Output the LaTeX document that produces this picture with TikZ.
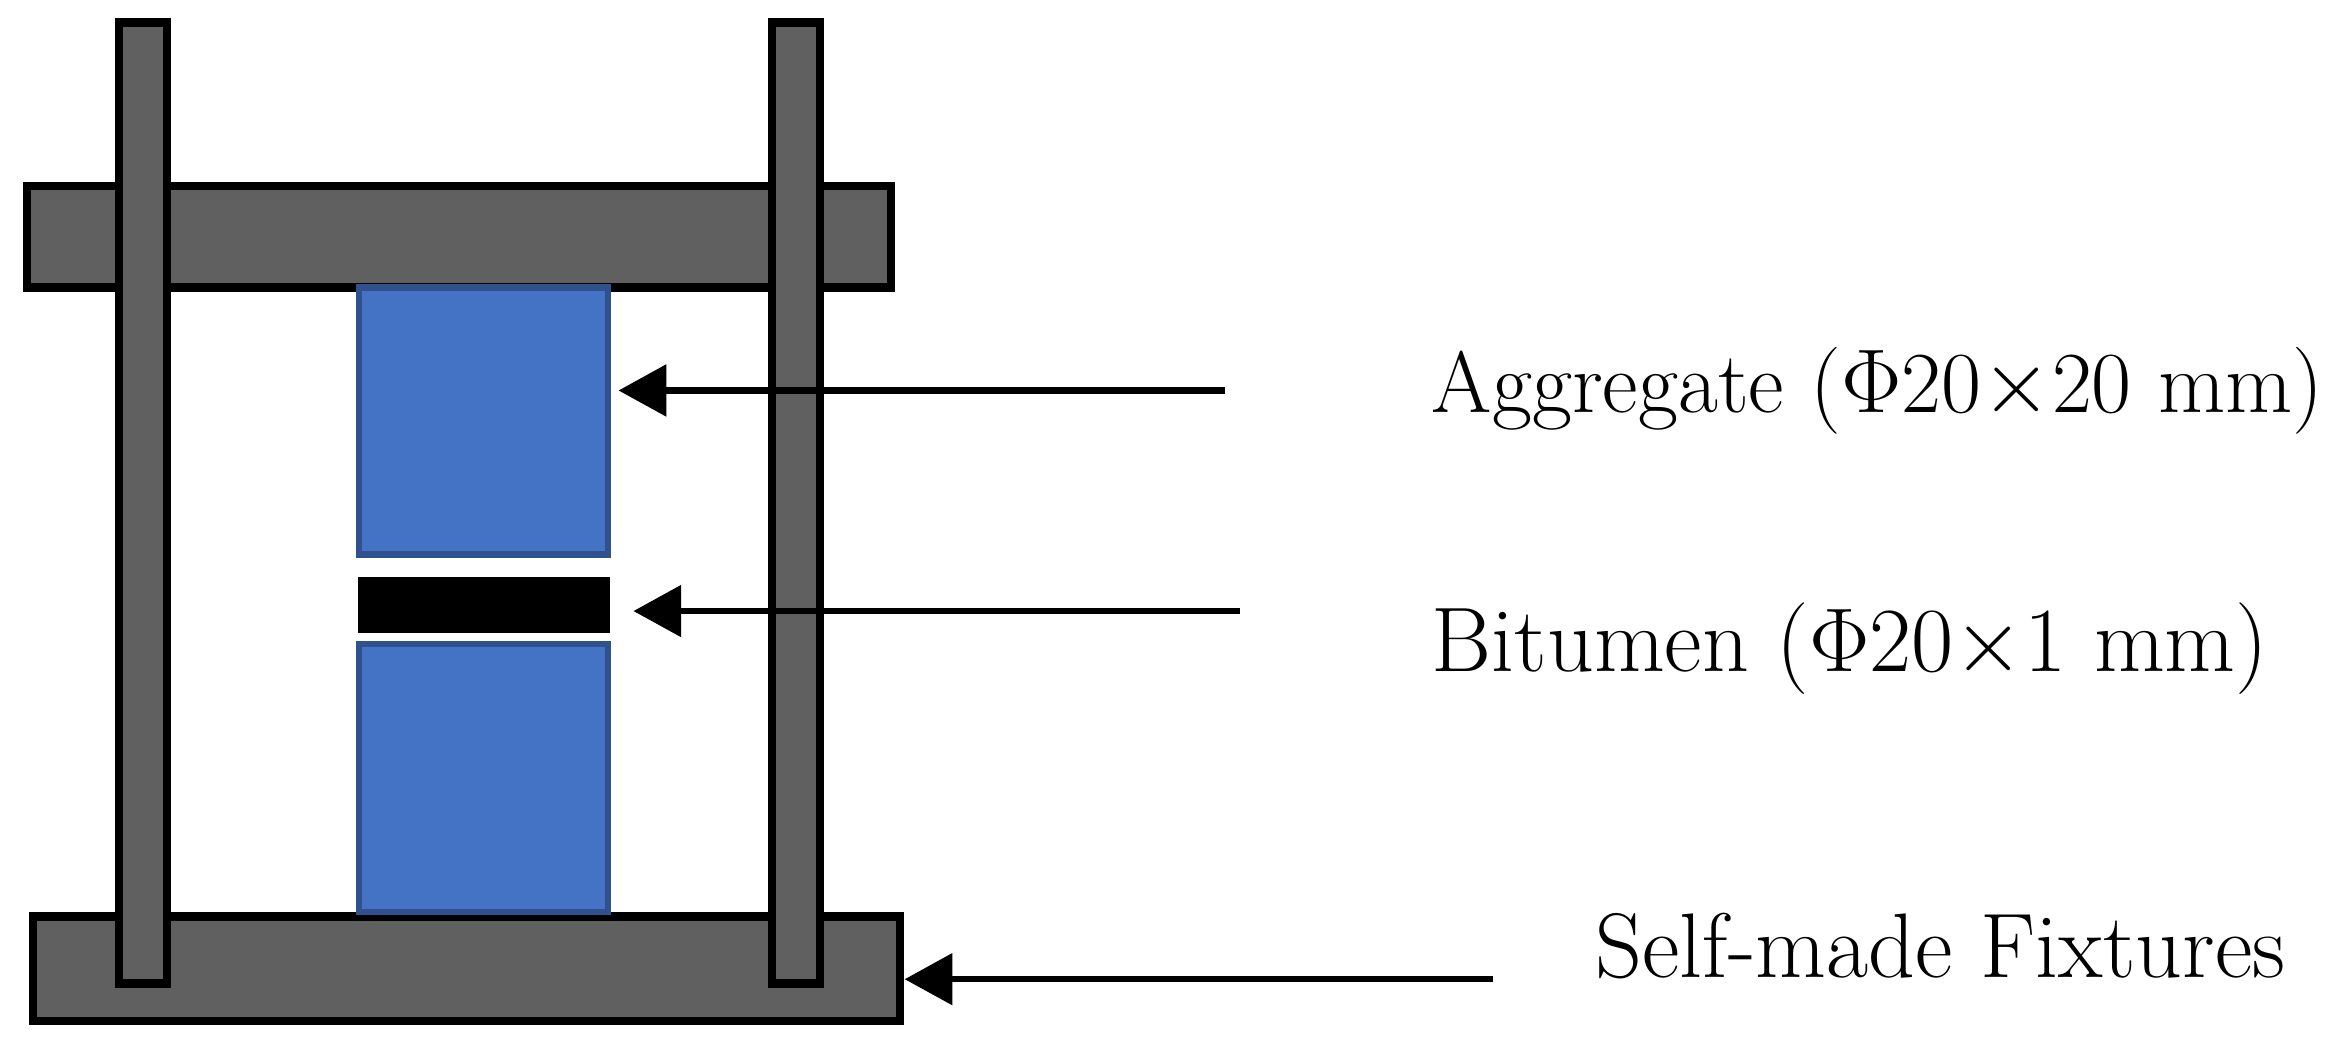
\documentclass[tikz,border=0pt]{standalone}
\usetikzlibrary{arrows.meta}
\definecolor{steel}{HTML}{606060}
\definecolor{agg}{HTML}{4472C4}
\definecolor{aggb}{HTML}{2F528F}
\begin{document}
\begin{tikzpicture}[x=0.01cm,y=-0.01cm,
  metal/.style={fill=steel,draw=black,line width=1.6pt},
  aggbox/.style={fill=agg,draw=aggb,line width=1.2pt},
  lead/.style={line width=1.2pt,-{Triangle[length=0.32cm,width=0.34cm]}},
  lbl/.style={anchor=west,inner sep=0,font=\fontsize{17.5}{20}\selectfont}]
\useasboundingbox (0,0) rectangle (1568,701);
\draw[metal] (18,125) rectangle (598,193);
\draw[metal] (22,615) rectangle (604,685);
\draw[metal] (80,15) rectangle (112,660);
\draw[metal] (518,15) rectangle (550,660);
\draw[aggbox] (241,193) rectangle (408,372);
\node[fill=black,inner sep=0,minimum width=1.69cm,minimum height=0.38cm] (bit) at (324.5,406) {};
\draw[aggbox] (241,432) rectangle (408,612);
\coordinate (a1) at (822,262); \coordinate (a2) at (415,262);
\coordinate (b1) at (832,410); \coordinate (b2) at (425,410);
\coordinate (c1) at (1002,657); \coordinate (c2) at (607,657);
\draw[lead] (a1) -- (a2);
\draw[lead] (b1) -- (b2);
\draw[lead] (c1) -- (c2);
\node[lbl,font=\fontsize{16.6}{20}\selectfont] (ta) at (960,262) {Aggregate ($\Phi$20$\times$20 mm)};
\node[lbl] (tb) at (960,435) {Bitumen ($\Phi$20$\times$1 mm)};
\node[lbl] (tc) at (1070,635) {Self-made Fixtures};
\end{tikzpicture}
\end{document}
